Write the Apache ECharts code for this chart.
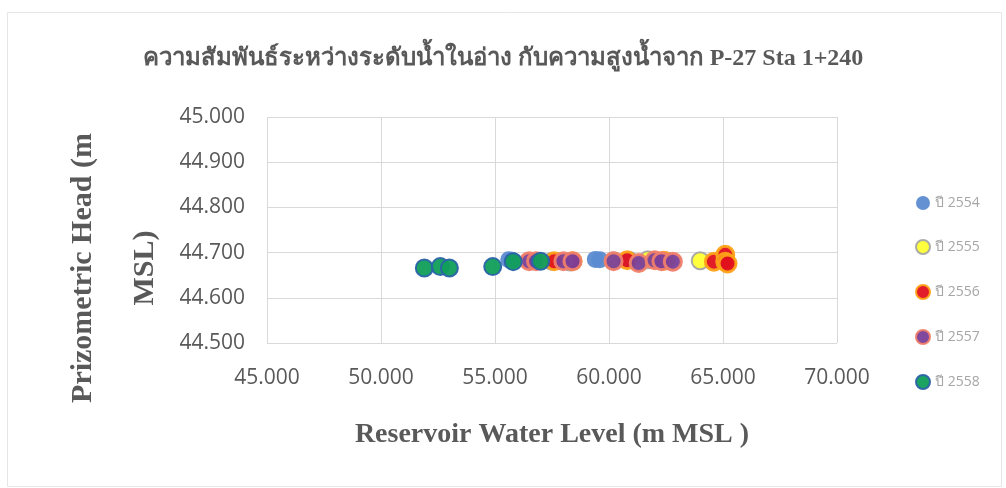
<!DOCTYPE html>
<html>
<head>
<meta charset="utf-8">
<script src="https://cdn.jsdelivr.net/npm/echarts@6/dist/echarts.min.js"></script>
<style>html,body{margin:0;padding:0;background:#fff}#c{width:1006px;height:488px}</style>
</head>
<body>
<div id="c"></div>
<script>
const titleText = 'ความสัมพันธ์ระหว่างระดับน้ำในอ่าง กับความสูงน้ำจาก P-27 Sta 1+240';
const xAxisName = 'Reservoir Water Level (m MSL )';
const yAxisName = 'Prizometric Head (m\nMSL)';
const xTicks = [45, 50, 55, 60, 65, 70];
const yTicks = [44.5, 44.6, 44.7, 44.8, 44.9, 45.0];
const seriesNames = ['ปี 2554', 'ปี 2555', 'ปี 2556', 'ปี 2557', 'ปี 2558'];

// [reservoir level, piezometric head]
const y2554 = [[55.6, 44.684], [55.75, 44.683], [59.4, 44.685], [59.6, 44.684], [60.9, 44.684], [61.8, 44.684]];
const y2555 = [[57.5, 44.681], [58.3, 44.679], [60.2, 44.682], [61.7, 44.684], [62.5, 44.682], [64.0, 44.682]];
const y2556 = [[57.6, 44.681], [58.4, 44.681], [60.8, 44.683], [62.4, 44.682], [64.6, 44.680], [65.1, 44.695], [65.1, 44.680], [65.2, 44.676]];
const y2557 = [[56.5, 44.681], [56.8, 44.681], [58.0, 44.681], [58.4, 44.681], [60.2, 44.681], [61.3, 44.677], [62.0, 44.683], [62.3, 44.681], [62.8, 44.680]];
const y2558 = [[51.9, 44.666], [52.6, 44.669], [53.0, 44.666], [54.9, 44.669], [55.8, 44.680], [57.0, 44.681]];

const styles = [
  {color: '#5b8bd0', borderColor: '#5b8bd0', borderWidth: 0},
  {color: '#ffff33', borderColor: '#a6a6a6', borderWidth: 2},
  {color: '#e0101e', borderColor: '#ffa319', borderWidth: 3},
  {color: '#7a3f98', borderColor: '#f0806a', borderWidth: 3},
  {color: '#109e5a', borderColor: '#2a63a8', borderWidth: 2}
];
const datasets = [y2554, y2555, y2556, y2557, y2558];

const chart = echarts.init(document.getElementById('c'));
const serif = '"Liberation Serif", "DejaVu Serif", serif';
const sans = '"Open Sans", sans-serif';
chart.setOption({
  animation: false,
  backgroundColor: '#fff',
  title: {
    text: titleText, left: 'center', top: 42,
    textStyle: {fontFamily: serif, fontSize: 24, fontWeight: 'bold', color: '#595959'}
  },
  legend: {
    orient: 'vertical', left: 910, top: 191, itemGap: 29,
    itemWidth: 14, itemHeight: 14, icon: 'circle',
    textStyle: {fontSize: 14, color: '#a6a6a6', fontFamily: sans},
    data: seriesNames
  },
  grid: {left: 267, right: 169, top: 117, bottom: 145},
  xAxis: {
    type: 'value', min: xTicks[0], max: xTicks[xTicks.length - 1], interval: 5,
    name: xAxisName, nameLocation: 'middle', nameGap: 78,
    nameTextStyle: {fontFamily: serif, fontSize: 28, fontWeight: 'bold', color: '#595959'},
    axisLine: {show: false}, axisTick: {show: false},
    axisLabel: {formatter: v => v.toFixed(3), fontSize: 21, color: '#595959', margin: 25, fontFamily: sans},
    splitLine: {show: true, lineStyle: {color: '#d9d9d9'}}
  },
  yAxis: {
    type: 'value', min: yTicks[0], max: yTicks[yTicks.length - 1], interval: 0.1,
    axisLine: {show: false}, axisTick: {show: false},
    axisLabel: {formatter: v => v.toFixed(3), fontSize: 21, color: '#595959', margin: 22, fontFamily: sans},
    splitLine: {show: true, lineStyle: {color: '#d9d9d9'}}
  },
  graphic: [
    {type: 'rect', left: 5, top: 10, shape: {width: 994, height: 474}, style: {fill: 'none', stroke: '#e6e6e6', lineWidth: 1}, silent: true},
    {type: 'text', x: 114, y: 268, rotation: Math.PI / 2,
     style: {text: yAxisName, textAlign: 'center', textVerticalAlign: 'middle', lineHeight: 62,
             font: 'bold 30px ' + serif, fill: '#595959'}}
  ],
  series: datasets.map((d, i) => ({
    name: seriesNames[i], type: 'scatter', data: d, symbolSize: 17,
    itemStyle: Object.assign({opacity: 0.95}, styles[i])
  }))
});
</script>
</body>
</html>
